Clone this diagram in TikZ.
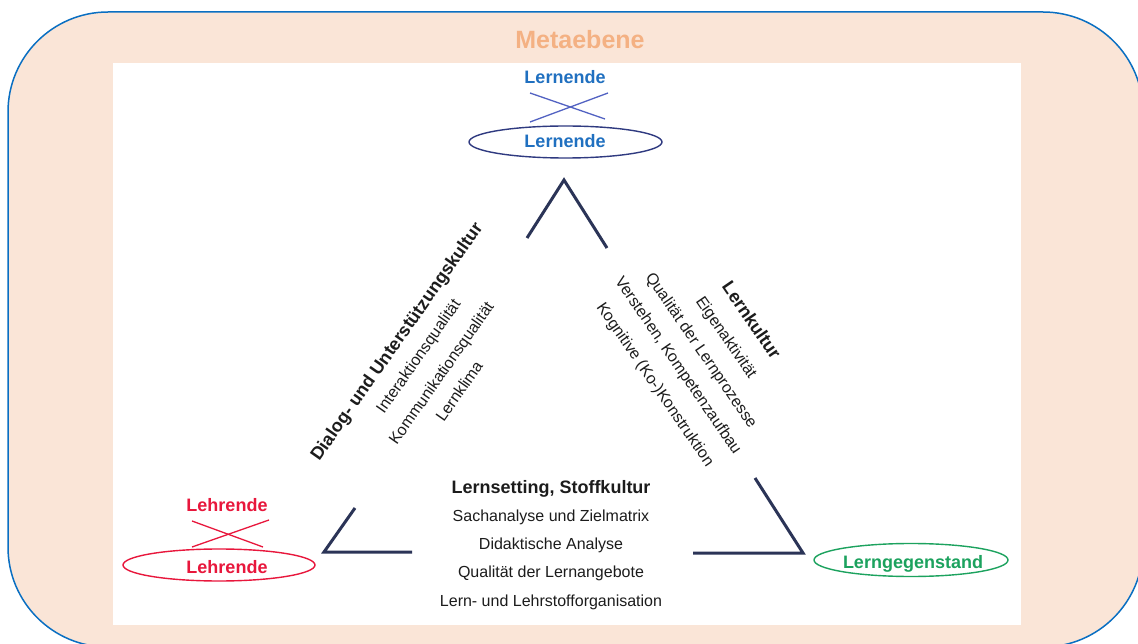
\documentclass[tikz,border=0pt]{standalone}
\usepackage{fontspec}
\setmainfont{Liberation Sans}
\usetikzlibrary{shapes.geometric}
\definecolor{metaorange}{HTML}{F4B183}
\definecolor{frameblue}{HTML}{0A6FC2}
\definecolor{peach}{HTML}{FAE5D7}
\definecolor{lblue}{HTML}{2070C0}
\definecolor{crossblue}{HTML}{5262C2}
\definecolor{ellblue}{HTML}{2F3A80}
\definecolor{lred}{HTML}{E8173C}
\definecolor{lgreen}{HTML}{1CA25E}
\definecolor{trinavy}{HTML}{2B3457}
\definecolor{txtdark}{HTML}{1C1C1C}
\begin{document}
\begin{tikzpicture}[x=1pt,y=-1pt,
  lbl/.style={inner sep=0pt, text depth=0pt, text height=12.9pt, font=\fontsize{18}{21}\selectfont\bfseries},
  body/.style={inner sep=0pt, text depth=0pt, text height=11.5pt, font=\fontsize{16}{19}\selectfont, text=txtdark},
  ell/.style={ellipse, inner sep=0pt, line width=1.4pt},
  crossline/.style={line width=1.3pt},
  tri/.style={line width=3pt, draw=trinavy, line join=miter}]
\useasboundingbox (0,0) rectangle (1138,644);
\clip (0,0) rectangle (1138,644);
% frame
\draw[draw=frameblue, fill=peach, line width=1.5pt, rounded corners=100pt] (8,12) rectangle (1143,647);
\fill[white] (113,63) rectangle (1021,625);
\node[lbl, text=metaorange, font=\fontsize{25}{29}\selectfont\bfseries, text height=17.9pt] (meta) at (580,40) {Metaebene};

% Lernende
\node[lbl, text=lblue] (lern1) at (565,77) {Lernende};
\node[ell, draw=ellblue, minimum width=193pt, minimum height=32pt] (lernE) at (565.5,142) {};
\node[lbl, text=lblue] (lern2) at (565,141) {Lernende};
\coordinate (lc1) at (530,93);
\coordinate (lc2) at (605,119);
\coordinate (lc3) at (530,122);
\coordinate (lc4) at (608,93);
\draw[crossline, crossblue] (lc1) -- (lc2);
\draw[crossline, crossblue] (lc3) -- (lc4);

% Lehrende
\node[lbl, text=lred] (lehr1) at (227,505) {Lehrende};
\node[ell, draw=lred, minimum width=192pt, minimum height=32pt] (lehrE) at (219,565) {};
\node[lbl, text=lred] (lehr2) at (227,567) {Lehrende};
\coordinate (hc1) at (192,521);
\coordinate (hc2) at (263,547);
\coordinate (hc3) at (192,547);
\coordinate (hc4) at (269,520);
\draw[crossline, lred] (hc1) -- (hc2);
\draw[crossline, lred] (hc3) -- (hc4);

% Lerngegenstand
\node[ell, draw=lgreen, minimum width=194pt, minimum height=33pt] (gegE) at (911,560) {};
\node[lbl, text=lgreen] (geg) at (913,562) {Lerngegenstand};

% triangle corners
\coordinate (tA) at (564,180);
\coordinate (tAl) at (527,238);
\coordinate (tAr) at (607,248);
\coordinate (bL) at (324,552);
\coordinate (bLu) at (355,508);
\coordinate (bLr) at (412,552);
\coordinate (bR) at (803,553);
\coordinate (bRu) at (755,478);
\coordinate (bRl) at (693,553);
\draw[tri] (tAl) -- (tA) -- (tAr);
\draw[tri] (bLu) -- (bL) -- (bLr);
\draw[tri] (bRu) -- (bR) -- (bRl);

% left side texts
\node[lbl, text=txtdark, rotate=55] (dial) at (396,341) {Dialog- und Unterstützungskultur};
\node[body, rotate=55] (inter) at (418,356) {Interaktionsqualität};
\node[body, rotate=55] (komm) at (441,373) {Kommunikationsqualität};
\node[body, rotate=55] (klima) at (459,391) {Lernklima};

% right side texts
\node[lbl, text=txtdark, rotate=-55.5] (lkult) at (752,320) {Lernkultur};
\node[body, rotate=-55.5] (eigen) at (727,337) {Eigenaktivität};
\node[body, rotate=-55.5] (qual) at (702,350) {Qualität der Lernprozesse};
\node[body, rotate=-55.5] (verst) at (679,365) {Verstehen, Kompetenzaufbau};
\node[body, rotate=-55.5] (kogn) at (656,384) {Kognitive (Ko-)Konstruktion};

% bottom texts
\node[lbl, text=txtdark] (lset) at (551,487) {Lernsetting, Stoffkultur};
\node[body] (sach) at (551,516) {Sachanalyse und Zielmatrix};
\node[body] (dida) at (551,544) {Didaktische Analyse};
\node[body] (qang) at (551,572) {Qualität der Lernangebote};
\node[body] (lorg) at (551,601) {Lern- und Lehrstofforganisation};
\end{tikzpicture}
\end{document}
